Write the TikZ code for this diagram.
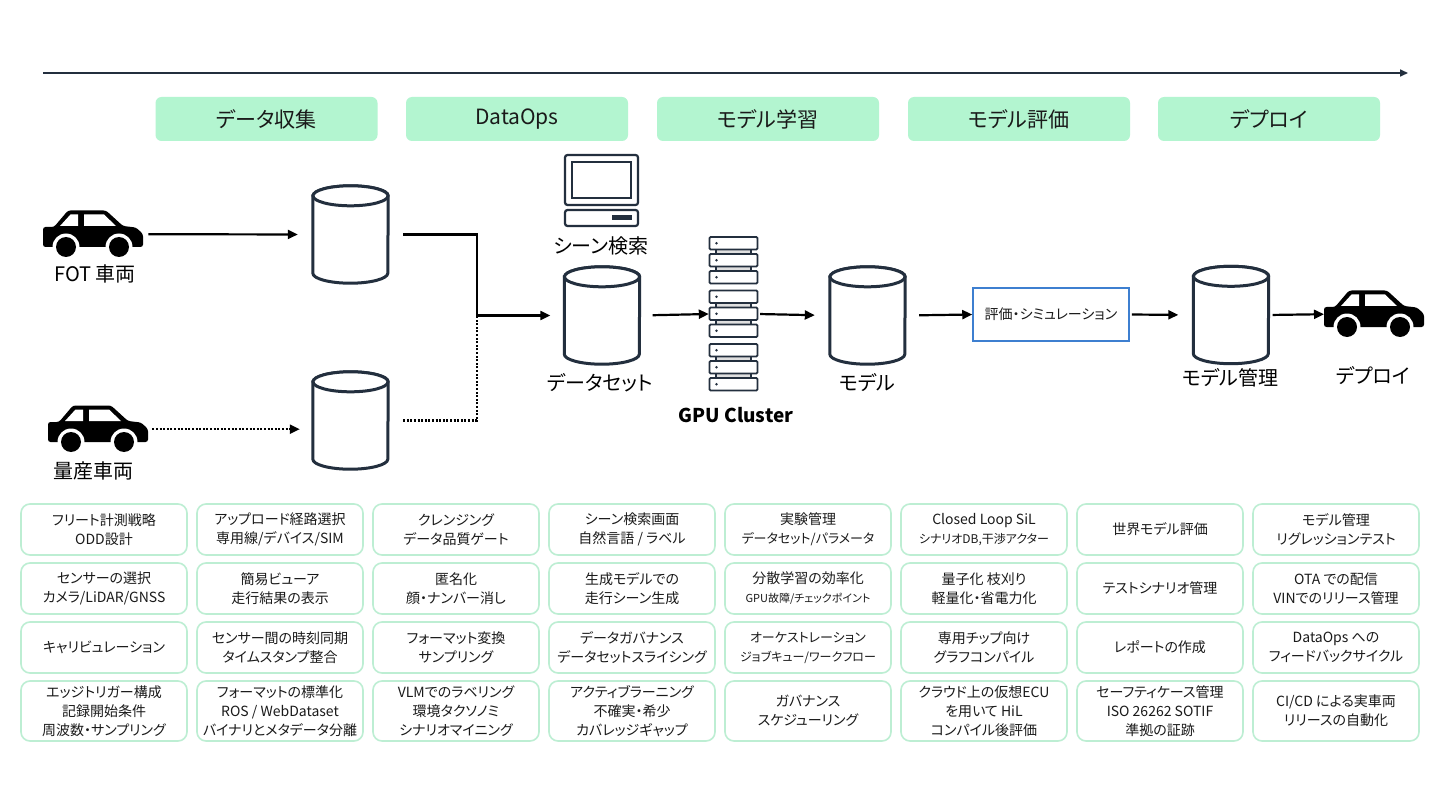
\documentclass[tikz,border=0pt]{standalone}
\usepackage{fontspec}
\setmainfont{Noto Sans CJK JP}[RawFeature=+palt]
\usetikzlibrary{arrows.meta}
\definecolor{ink}{HTML}{232F3E}
\definecolor{mint}{HTML}{B3F5D0}
\definecolor{gridline}{HTML}{BDEED3}
\definecolor{bluebox}{HTML}{3D7FD0}
\definecolor{txt}{HTML}{1A1A1A}
\tikzset{
  arr/.style={line width=2.2pt, black, -{Triangle[length=10pt,width=9pt]}},
  dotarr/.style={arr, dash pattern=on 2pt off 1.6pt},
  hdr/.style={fill=mint, rounded corners=6pt, minimum width=222pt, minimum height=44pt, inner sep=0pt, font=\fontsize{21}{24}\selectfont, text=txt},
  cell/.style={draw=gridline, line width=1.6pt, rounded corners=9pt, minimum width=166pt, align=center, font=\fontsize{14}{19}\selectfont, text=txt, inner sep=0pt},
  lbl/.style={font=\fontsize{20}{24}\selectfont, text=black, inner sep=0pt},
  cylbox/.style={minimum width=75pt, minimum height=97pt, inner sep=0pt},
  cylline/.style={draw=ink, line width=3pt, fill=white},
  iconline/.style={draw=ink, line width=2.2pt},
}
\newcommand\dbcyl[2]{%
  \node[cylbox] (#1) at (#2) {};
  \draw[cylline] ([yshift=-10pt]#1.north west) -- ([yshift=10pt]#1.south west)
     arc[start angle=180,end angle=360,x radius=37.5pt,y radius=10pt]
     -- ([yshift=-10pt]#1.north east)
     arc[start angle=0,end angle=180,x radius=37.5pt,y radius=10pt] -- cycle;
  \draw[cylline] ([yshift=-10pt]#1.north) ellipse[x radius=37.5pt,y radius=10pt];
}
\newcommand\carshape[2]{%
  \node[minimum width=100pt, minimum height=48pt, inner sep=0pt, anchor=north west] (#1) at (#2) {};
  \begin{scope}[shift={(#1.north west)}]
    \fill[black, rounded corners=2.5pt] (0,17) -- (11,17) -- (25,0.5) -- (63,0.5) -- (80,16) -- (93,17.5) -- (100,24) -- (100,37) -- (0,37) -- cycle;
    \fill[white] (17,16) -- (27.5,4.5) -- (35,4.5) -- (35,16) -- cycle;
    \fill[white] (41,4.5) -- (61,4.5) -- (73,16) -- (41,16) -- cycle;
    \fill[white] (23,37) circle[radius=13.5pt];
    \fill[black] (23,37) circle[radius=10pt];
    \fill[white] (76,37) circle[radius=13.5pt];
    \fill[black] (76,37) circle[radius=10pt];
  \end{scope}
}
\begin{document}
\begin{tikzpicture}[x=1pt,y=-1pt]
\useasboundingbox[fill=white] (0,0) rectangle (1440,810);

% timeline
\coordinate (t0) at (43,73);
\coordinate (t1) at (1408,73);
\draw[ink, line width=1.6pt, -{Triangle[length=8pt,width=7pt]}] (t0) -- (t1);

% phase headers
\node[hdr] (h1) at (266.5,119) {データ収集};
\node[hdr] (h2) at (517,119) {DataOps};
\node[hdr] (h3) at (768,119) {モデル学習};
\node[hdr] (h4) at (1019,119) {モデル評価};
\node[hdr] (h5) at (1269,119) {デプロイ};

% vehicles
\carshape{fot}{43,210}
\node[lbl] (fotl) at (95,274) {FOT 車両};
\carshape{mass}{48,405}
\node[lbl] (massl) at (93,471) {量産車両};
\carshape{dep}{1324,290}
\node[lbl] (depl) at (1373,376) {デプロイ};

% storage
\dbcyl{c1}{350.5,234.5}
\dbcyl{c2}{350.5,420.5}
\dbcyl{ds}{602,315.5}
\node[lbl] (dsl) at (600,383) {データセット};
\dbcyl{mdl}{867.5,315.5}
\node[lbl] (mdll) at (867,383) {モデル};
\dbcyl{mm}{1231,315}
\node[lbl] (mml) at (1230,378) {モデル管理};

% scene search monitor
\node[minimum width=73pt, minimum height=71pt, inner sep=0pt] (mon) at (601.5,190.5) {};
\draw[iconline, fill=white, rounded corners=2.5pt] (565,155) rectangle (638,205);
\draw[iconline] (572,162) rectangle (631,198);
\draw[iconline, fill=white, rounded corners=2.5pt] (565,210) rectangle (638,226);
\fill[ink] (612,215.5) rectangle (632,220.5);
\node[lbl] (monl) at (601,246) {シーン検索};

% GPU cluster
\node[minimum width=49pt, minimum height=154pt, inner sep=0pt] (gpu) at (733.5,314) {};
\foreach \g in {0,1,2}{
  \foreach \k in {0,1}{
    \pgfmathsetmacro\yy{237+53.5*\g+17*\k}
    \fill[gray!25] (716,{\yy+12.5}) rectangle (751,{\yy+17});
    \draw[ink, line width=1.4pt] (716,{\yy+12.5}) -- (716,{\yy+17});
    \draw[ink, line width=1.4pt] (751,{\yy+12.5}) -- (751,{\yy+17});
  }
  \foreach \k in {0,1,2}{
    \pgfmathsetmacro\yy{237+53.5*\g+17*\k}
    \draw[ink, line width=1.8pt, fill=white, rounded corners=1.2pt] (709.5,\yy) rectangle (757.5,{\yy+12.5});
    \fill[ink] (716.5,{\yy+6.25}) circle[radius=1.3pt];
  }
}
\node[lbl, font=\fontsize{19}{22}\selectfont\bfseries] (gpul) at (736,415) {GPU Cluster};

% evaluation box
\node[draw=bluebox, line width=1.5pt, minimum width=156pt, minimum height=53pt, inner sep=0pt, font=\fontsize{14}{16}\selectfont, text=txt] (eval) at (1051,314.5) {評価・シミュレーション};

% connectors
\draw[arr, shorten <=5pt, shorten >=15pt] (fot.east) -- (c1.west);
\draw[dotarr, shorten <=4pt, shorten >=13pt] (mass.east) -- (mass.east -| c2.west);
\coordinate (jn) at (477,315.5);
\draw[dotarr, -] ([xshift=15pt]c2.east) -| (jn);
\draw[arr, -] ([xshift=15pt]c1.east) -| (jn);
\draw[arr, shorten >=14pt] (jn) -- (ds.west);
\draw[arr, shorten <=13pt] (ds.east) -- (gpu.west);
\draw[arr, shorten <=2pt, shorten >=15pt] (gpu.east) -- (mdl.west);
\draw[arr, shorten <=14pt] (mdl.east) -- (eval.west);
\draw[arr, shorten <=2pt, shorten >=15pt] (eval.east) -- (mm.west);
\draw[arr, shorten <=4pt] (mm.east) -- (dep.west);

% grid of tasks
\tikzset{r1/.style={cell, minimum height=51pt}, r4/.style={cell, minimum height=60pt}}
% column 1
\node[r1] (a1) at (104,529.5) {フリート計測戦略\\ODD設計};
\node[r1] (a2) at (104,588.5) {センサーの選択\\カメラ/LiDAR/GNSS};
\node[r1] (a3) at (104,647.5) {キャリビュレーション};
\node[r4] (a4) at (104,711) {エッジトリガー構成\\記録開始条件\\周波数・サンプリング};
% column 2
\node[r1] (b1) at (280,529.5) {アップロード経路選択\\専用線/デバイス/SIM};
\node[r1] (b2) at (280,588.5) {簡易ビューア\\走行結果の表示};
\node[r1] (b3) at (280,647.5) {センサー間の時刻同期\\タイムスタンプ整合};
\node[r4] (b4) at (280,711) {フォーマットの標準化\\ROS / WebDataset\\バイナリとメタデータ分離};
% column 3
\node[r1] (c1g) at (456,529.5) {クレンジング\\データ品質ゲート};
\node[r1] (c2g) at (456,588.5) {匿名化\\顔・ナンバー消し};
\node[r1] (c3g) at (456,647.5) {フォーマット変換\\サンプリング};
\node[r4] (c4g) at (456,711) {VLMでのラベリング\\環境タクソノミ\\シナリオマイニング};
% column 4
\node[r1] (d1) at (632,529.5) {シーン検索画面\\自然言語 / ラベル};
\node[r1] (d2) at (632,588.5) {生成モデルでの\\走行シーン生成};
\node[r1] (d3) at (632,647.5) {データガバナンス\\データセットスライシング};
\node[r4] (d4) at (632,711) {アクティブラーニング\\不確実・希少\\カバレッジギャップ};
% column 5
\node[r1] (e1) at (808,529.5) {実験管理\\{\fontsize{13}{17}\selectfont データセット/パラメータ}};
\node[r1] (e2) at (808,588.5) {分散学習の効率化\\{\fontsize{11}{15}\selectfont GPU故障/チェックポイント}};
\node[r1] (e3) at (808,647.5) {{\fontsize{13}{17}\selectfont オーケストレーション}\\{\fontsize{12}{16}\selectfont ジョブキュー/ワークフロー}};
\node[r4] (e4) at (808,711) {ガバナンス\\スケジューリング};
% column 6
\node[r1] (f1) at (984,529.5) {Closed Loop SiL\\{\fontsize{12}{16}\selectfont シナリオDB,干渉アクター}};
\node[r1] (f2) at (984,588.5) {量子化 枝刈り\\軽量化・省電力化};
\node[r1] (f3) at (984,647.5) {専用チップ向け\\グラフコンパイル};
\node[r4] (f4) at (984,711) {クラウド上の仮想ECU\\を用いて HiL\\コンパイル後評価};
% column 7
\node[r1] (g1) at (1160,529.5) {世界モデル評価};
\node[r1] (g2) at (1160,588.5) {テストシナリオ管理};
\node[r1] (g3) at (1160,647.5) {レポートの作成};
\node[r4] (g4) at (1160,711) {セーフティケース管理\\ISO 26262 SOTIF\\準拠の証跡};
% column 8
\node[r1] (k1) at (1336,529.5) {モデル管理\\リグレッションテスト};
\node[r1] (k2) at (1336,588.5) {OTA での配信\\VINでのリリース管理};
\node[r1] (k3) at (1336,647.5) {DataOps への\\フィードバックサイクル};
\node[r4] (k4) at (1336,711) {CI/CD による実車両\\リリースの自動化};
\end{tikzpicture}
\end{document}
